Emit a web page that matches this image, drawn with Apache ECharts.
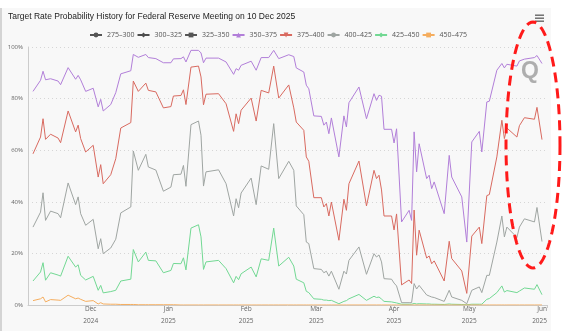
<!DOCTYPE html>
<html>
<head>
<meta charset="utf-8">
<script src="https://cdn.jsdelivr.net/npm/echarts@6/dist/echarts.min.js"></script>
<style>
  html, body { margin: 0; padding: 0; background: #ffffff; }
  #chart { width: 568px; height: 331px; }
</style>
</head>
<body>
<div id="chart"></div>
<script>
// Trading days sampled for the probability history
const dates = [
  '2024-11-08','2024-11-11','2024-11-12','2024-11-13','2024-11-15','2024-11-18','2024-11-19','2024-11-22','2024-11-25','2024-11-26','2024-11-27','2024-11-29',
  '2024-12-02','2024-12-04','2024-12-05','2024-12-06','2024-12-09','2024-12-11','2024-12-13','2024-12-17','2024-12-18','2024-12-20','2024-12-23','2024-12-24','2024-12-27','2024-12-30',
  '2025-01-02','2025-01-03','2025-01-06','2025-01-07','2025-01-08','2025-01-10','2025-01-13','2025-01-14','2025-01-15','2025-01-16','2025-01-21','2025-01-24','2025-01-27','2025-01-28','2025-01-29','2025-01-30',
  '2025-02-03','2025-02-05','2025-02-07','2025-02-10','2025-02-12','2025-02-14','2025-02-18','2025-02-20','2025-02-21','2025-02-24','2025-02-25','2025-02-26','2025-02-28',
  '2025-03-03','2025-03-04','2025-03-05','2025-03-06','2025-03-07','2025-03-10','2025-03-12','2025-03-13','2025-03-14','2025-03-18','2025-03-21','2025-03-24','2025-03-25','2025-03-26','2025-03-27','2025-03-28','2025-03-31',
  '2025-04-01','2025-04-02','2025-04-04','2025-04-07','2025-04-08','2025-04-09','2025-04-10','2025-04-11','2025-04-14','2025-04-15','2025-04-16','2025-04-17','2025-04-21','2025-04-23','2025-04-24','2025-04-28','2025-04-30',
  '2025-05-02','2025-05-05','2025-05-06','2025-05-08','2025-05-09','2025-05-12','2025-05-14','2025-05-15','2025-05-16','2025-05-20','2025-05-21','2025-05-23','2025-05-27','2025-05-28','2025-05-30'
];

// Probability (%) per target range
const p275_300 = [];
const p300_325 = [];
const p325_350 = [];
const p350_375 = [
  82.8, 87.1, 90.6, 87.3, 87.7, 86.8, 85.4, 92.0, 87.5, 89.0, 87.3, 82.8,
  84.0, 76.8, 79.7, 75.2, 77.7, 82.3, 89.6, 90.8, 97.1, 96.0, 97.1, 95.9, 95.5, 93.9,
  93.9, 95.4, 95.5, 96.2, 94.2, 98.7, 98.7, 97.7, 93.9, 95.7, 95.7, 94.2, 89.4, 91.6, 91.0, 92.9,
  94.5, 91.0, 95.9, 95.9, 98.7, 95.5, 97.0, 96.3, 91.9, 90.3, 85.2, 83.8, 73.3,
  73.1, 69.7, 70.9, 66.4, 72.5, 57.4, 73.3, 69.0, 78.4, 84.5, 72.2, 81.9, 79.3, 81.3, 80.9, 68.1, 68.1,
  62.8, 68.3, 32.2, 36.7, 32.8, 67.1, 51.6, 62.5, 49.0, 50.3, 45.1, 47.7, 35.4, 58.0, 49.6, 41.9, 24.4,
  63.2, 67.3, 59.3, 78.7, 79.0, 91.0, 93.6, 91.9, 93.3, 92.6, 94.6, 95.3, 95.9, 96.7, 93.6
];
const p375_400 = [
  58.6, 65.1, 72.2, 64.2, 66.2, 64.7, 62.9, 75.2, 67.1, 69.7, 64.5, 59.3,
  61.9, 49.6, 54.4, 47.0, 50.5, 56.7, 68.6, 70.7, 86.8, 82.8, 86.0, 83.2, 82.6, 76.4,
  76.9, 81.0, 81.2, 83.4, 77.7, 92.2, 92.6, 88.4, 77.6, 81.7, 81.9, 78.0, 67.3, 74.1, 70.3, 75.5,
  80.2, 71.3, 83.2, 82.2, 92.6, 80.2, 85.3, 76.4, 70.9, 67.7, 57.4, 55.7, 41.6,
  41.6, 38.0, 39.3, 34.5, 39.9, 25.1, 41.0, 36.7, 47.0, 55.8, 38.4, 52.2, 49.0, 50.3, 44.6, 34.5, 34.5,
  29.1, 35.3, 7.8, 9.7, 8.3, 36.8, 19.3, 29.0, 18.2, 19.0, 16.0, 17.1, 9.3, 24.7, 18.0, 13.2, 4.5,
  26.7, 30.2, 23.8, 42.4, 42.8, 57.4, 71.6, 64.5, 68.6, 65.1, 69.5, 72.6, 72.0, 76.6, 64.1
];
const p400_425 = [
  30.2, 36.0, 43.5, 32.8, 36.4, 35.4, 33.8, 47.3, 38.9, 41.9, 35.4, 30.9,
  33.2, 21.8, 25.7, 19.9, 22.1, 25.5, 35.7, 38.0, 59.7, 52.2, 58.4, 53.5, 52.3, 44.1,
  45.7, 50.5, 50.7, 54.1, 46.0, 69.9, 71.3, 65.8, 46.1, 51.6, 52.4, 47.0, 34.5, 41.2, 37.7, 43.4,
  49.2, 38.9, 53.9, 52.6, 70.3, 49.0, 55.7, 52.2, 38.4, 35.0, 24.4, 23.8, 14.1,
  13.8, 12.5, 13.1, 11.2, 13.1, 6.1, 13.1, 12.0, 17.3, 22.5, 11.9, 19.9, 18.6, 19.4, 16.7, 10.2, 10.0,
  8.5, 7.4, 0.9, 0.9, 0.9, 8.3, 6.2, 7.6, 3.9, 3.5, 3.1, 2.9, 1.4, 5.7, 3.1, 1.8, 0.5,
  5.7, 7.0, 4.8, 11.5, 11.5, 24.4, 34.5, 26.4, 30.2, 26.2, 30.2, 33.4, 32.2, 37.8, 24.6
];
const p425_450 = [
  9.3, 12.8, 16.4, 9.6, 12.5, 11.6, 11.2, 18.9, 14.7, 15.6, 11.5, 9.7,
  11.1, 5.7, 7.6, 4.7, 5.2, 5.7, 9.3, 10.0, 21.5, 16.7, 20.5, 17.3, 17.1, 12.5,
  13.4, 16.1, 16.0, 18.3, 13.6, 29.8, 31.1, 26.4, 13.8, 16.7, 17.3, 14.1, 8.6, 11.1, 9.8, 12.1,
  14.7, 10.9, 17.9, 17.3, 29.8, 15.1, 18.5, 15.1, 10.0, 8.6, 5.3, 4.8, 2.4,
  2.2, 1.9, 1.9, 1.7, 1.8, 0.5, 1.4, 1.7, 2.4, 4.1, 1.8, 3.4, 2.9, 3.1, 2.3, 1.4, 1.2,
  1.0, 0.8, 0.3, 0.3, 0.3, 0.6, 0.4, 0.5, 0.4, 0.4, 0.3, 0.3, 0.2, 0.4, 0.3, 0.2, 0.1,
  0.3, 0.3, 0.3, 2.2, 2.5, 4.8, 7.4, 5.0, 5.6, 4.8, 5.4, 6.6, 6.1, 7.9, 4.0
];
const p450_475 = [
  1.7, 2.4, 3.1, 1.2, 2.1, 1.9, 1.8, 3.8, 2.4, 2.7, 2.2, 1.4,
  1.7, 0.4, 0.9, 0.4, 0.3, 0.3, 0.2, 0.2, 0.2, 0.1, 0.1, 0.1, 0.1, 0.1,
  0.1, 0.1, 0, 0, 0, 0, 0, 0, 0, 0, 0, 0, 0, 0, 0, 0,
  0, 0, 0, 0, 0, 0, 0, 0, 0, 0, 0, 0, 0,
  0, 0, 0, 0, 0, 0, 0, 0, 0, 0, 0, 0, 0, 0, 0, 0, 0,
  0, 0, 0, 0, 0, 0, 0, 0, 0, 0, 0, 0, 0, 0, 0, 0, 0,
  0, 0, 0, 0, 0, 0, 0, 0, 0, 0, 0, 0, 0, 0, 0
];

const yTicks = [0, 20, 40, 60, 80, 100];
const monthNames = ['Jan','Feb','Mar','Apr','May','Jun','Jul','Aug','Sep','Oct','Nov','Dec'];

const ranges = [
  { name: '275–300', values: p275_300, color: '#555555', symbol: 'circle' },
  { name: '300–325', values: p300_325, color: '#4d4d4d', symbol: 'diamond' },
  { name: '325–350', values: p325_350, color: '#555555', symbol: 'rect' },
  { name: '350–375', values: p350_375, color: '#b27fd9', symbol: 'triangle' },
  { name: '375–400', values: p375_400, color: '#d96a60', symbol: 'path://M0,0L10,0L5,9Z' },
  { name: '400–425', values: p400_425, color: '#9fa5a2', symbol: 'circle' },
  { name: '425–450', values: p425_450, color: '#72d893', symbol: 'diamond' },
  { name: '450–475', values: p450_475, color: '#f5ad5e', symbol: 'rect' }
];

const tickFont = '"Open Sans", "DejaVu Sans", sans-serif';

// dashed highlight ellipse around the latest readings
const ellipsePts = [];
for (let i = 0; i <= 96; i++) {
  const a = (i / 96) * Math.PI * 2;
  ellipsePts.push([533 + 27 * Math.cos(a), 145 + 123 * Math.sin(a)]);
}

const chart = echarts.init(document.getElementById('chart'), null, { renderer: 'canvas' });

chart.setOption({
  animation: false,
  backgroundColor: '#ffffff',
  title: {
    text: 'Target Rate Probability History for Federal Reserve Meeting on 10 Dec 2025',
    left: 8,
    top: 12,
    padding: 0,
    textStyle: { fontSize: 8.5, fontWeight: 'normal', color: '#222222', fontFamily: '"Liberation Sans", Arial, sans-serif' }
  },
  legend: {
    top: 31.5,
    left: 89,
    padding: 0,
    itemWidth: 12,
    itemHeight: 6,
    itemGap: 2,
    textStyle: { fontSize: 7, color: '#555555', fontFamily: tickFont },
    data: ranges.map(r => r.name)
  },
  grid: { left: 28, right: 21, top: 47, bottom: 26, containLabel: false },
  xAxis: {
    type: 'time',
    min: '2024-11-06',
    max: '2025-06-01',
    minInterval: 28 * 24 * 3600 * 1000,
    maxInterval: 31 * 24 * 3600 * 1000,
    axisLine: { show: true, lineStyle: { color: '#cccccc', width: 1 } },
    axisTick: { show: true, length: 3, lineStyle: { color: '#cccccc' } },
    splitLine: { show: false },
    axisLabel: {
      fontSize: 6.5,
      color: '#666666',
      fontFamily: tickFont,
      lineHeight: 12,
      margin: -2,
      showMinLabel: false,
      showMaxLabel: true,
      alignMaxLabel: 'right',
      formatter: function (v) {
        const d = new Date(v);
        return monthNames[d.getMonth()] + '\n' + d.getFullYear();
      }
    }
  },
  yAxis: {
    type: 'value',
    min: yTicks[0],
    max: yTicks[yTicks.length - 1],
    interval: 20,
    axisLine: { show: true, lineStyle: { color: '#cccccc', width: 1 } },
    axisTick: { show: false },
    splitLine: { show: true, lineStyle: { color: '#d6d6d6', type: [1, 3], width: 1 } },
    axisLabel: {
      fontSize: 6,
      color: '#666666',
      fontFamily: tickFont,
      margin: 5,
      formatter: '{value}%'
    }
  },
  graphic: [
    { type: 'rect', z: -10, shape: { x: 0, y: 8, width: 2, height: 323 }, style: { fill: '#d4d4d4' } },
    { type: 'rect', z: -10, shape: { x: 2, y: 8, width: 549, height: 323 }, style: { fill: '#f8f8f8' } },
    { type: 'rect', shape: { x: 535, y: 14.5, width: 9, height: 1.4 }, style: { fill: '#666666' } },
    { type: 'rect', shape: { x: 535, y: 17.5, width: 9, height: 1.4 }, style: { fill: '#666666' } },
    { type: 'rect', shape: { x: 535, y: 20.5, width: 9, height: 1.4 }, style: { fill: '#666666' } },
    {
      type: 'text', left: 521, top: 60, z: 5,
      style: { text: 'Q', fontSize: 23, fontWeight: 'bold', fill: 'rgba(150,150,150,0.75)', fontFamily: '"Liberation Sans", Arial, sans-serif' }
    },
    {
      type: 'polygon', z: 50,
      shape: { points: ellipsePts },
      style: { fill: 'none', stroke: '#ff1a1a', lineWidth: 3, lineDash: [10, 6] }
    }
  ],
  series: ranges.map(r => ({
    name: r.name,
    type: 'line',
    data: r.values.map((v, i) => [dates[i], v]),
    color: r.color,
    symbol: r.symbol,
    symbolSize: 6,
    showSymbol: false,
    lineStyle: { width: 1, color: r.color },
    emphasis: { disabled: true }
  }))
});
</script>
</body>
</html>
